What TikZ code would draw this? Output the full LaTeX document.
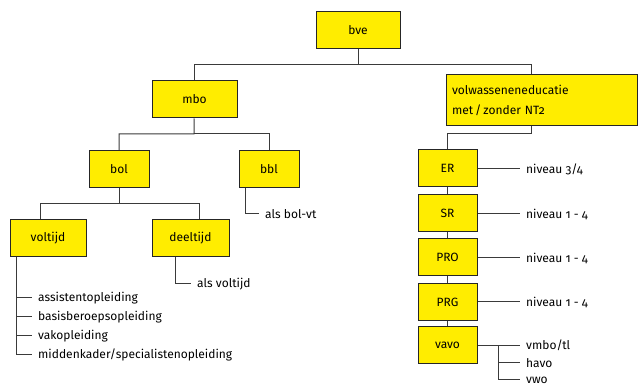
\documentclass[tikz,border=0pt]{standalone}
\usepackage{fontspec}
\setmainfont[Numbers=OldStyle]{Fira Sans}
\usetikzlibrary{calc}
\definecolor{boxyellow}{HTML}{FFED00}
\definecolor{linegray}{HTML}{3A3A3A}
\tikzset{
  box/.style={draw=black!85,line width=1pt,fill=boxyellow,minimum height=37pt,inner sep=0pt,font=\fontsize{12}{20}\selectfont},
  conn/.style={draw=linegray,line width=1pt},
  leaf/.style={anchor=west,inner xsep=6pt,inner ysep=0pt,font=\fontsize{12}{20}\selectfont}
}
\begin{document}
\begin{tikzpicture}[x=1pt,y=-1pt]
\useasboundingbox (0,0) rectangle (638,387);
% Schema bve
\node[box,minimum width=84pt] (bve) at (358,30) {bve};
\node[box,minimum width=85pt] (mbo) at (194.5,99.5) {mbo};
\node[box,minimum width=191pt,minimum height=51pt,text width=179pt,align=left] (vol) at (541.5,100.5) {volwasseneneducatie\\met\,/\,zonder NT2};
\node[box,minimum width=60pt] (bol) at (119,169) {bol};
\node[box,minimum width=60pt] (bbl) at (269,169) {bbl};
\node[box,minimum width=76pt] (voltijd) at (48,238.5) {voltijd};
\node[box,minimum width=77pt] (deeltijd) at (190.5,238.5) {deeltijd};
\node[box,minimum width=59pt] (ER) at (447.5,168.5) {ER};
\node[box,minimum width=59pt] (SR) at (447.5,213.5) {SR};
\node[box,minimum width=59pt] (PRO) at (447.5,257.5) {PRO};
\node[box,minimum width=59pt] (PRG) at (447.5,302) {PRG};
\node[box,minimum width=59pt] (vavo) at (447.5,345.5) {vavo};
% splitsingen
\coordinate (bveJ) at (358,65);
\coordinate (volJ) at (531,134);
\coordinate (mboJ) at (194,134);
\coordinate (bolJ) at (119,204);
\coordinate (vtJ) at (40,204);
\coordinate (dtJ) at (199,204);
\coordinate (vavoJ) at (498,345.5);
\draw[conn] (bve) -- (bveJ) -| (mbo);
\draw[conn] (bveJ) -| (vol.north -| volJ);
\draw[conn] (vol.south -| volJ) -- (volJ) -| (ER);
\draw[conn] (mbo) -- (mboJ) -| (bol);
\draw[conn] (mboJ) -| (bbl);
\draw[conn] (bol) -- (bolJ) -- (vtJ) -- (vtJ |- voltijd.north);
\draw[conn] (bolJ) -- (dtJ) -- (dtJ |- deeltijd.north);
\draw[conn] (ER) -- (SR);
\draw[conn] (SR) -- (PRO);
\draw[conn] (PRO) -- (PRG);
\draw[conn] (PRG) -- (vavo);
% teksten
\node[leaf] (bblL) at (259,214) {als bol-vt};
\draw[conn] (bbl.south west) ++(7,0) |- (bblL);
\node[leaf] (dtL) at (191,284) {als voltijd};
\draw[conn] (deeltijd.south west) ++(24,0) |- (dtL);
\node[leaf] (vt1) at (32,298) {assistentopleiding};
\node[leaf] (vt2) at (32,317) {basisberoepsopleiding};
\node[leaf] (vt3) at (32,336) {vakopleiding};
\node[leaf] (vt4) at (32,355) {middenkader/specialistenopleiding};
\draw[conn] (voltijd.south west) ++(7,0) |- (vt4.west);
\foreach \n in {vt1,vt2,vt3}
  \draw[conn] (vt4.west -| voltijd.south west) ++(7,0) |- (\n.west);
\node[leaf] (erL) at (520,169) {niveau 3/4};
\node[leaf] (srL) at (520,214) {niveau 1 - 4};
\node[leaf] (proL) at (520,258) {niveau 1 - 4};
\node[leaf] (prgL) at (520,302) {niveau 1 - 4};
\draw[conn] (ER.east) -- (ER.east -| erL.west);
\draw[conn] (SR.east) -- (SR.east -| srL.west);
\draw[conn] (PRO.east) -- (PRO.east -| proL.west);
\draw[conn] (PRG.east) -- (PRG.east -| prgL.west);
\node[leaf] (vv1) at (520,345.5) {vmbo/tl};
\node[leaf] (vv2) at (520,363) {havo};
\node[leaf] (vv3) at (520,380) {vwo};
\draw[conn] (vavo.east) -- (vv1.west);
\draw[conn] (vavoJ) |- (vv2.west);
\draw[conn] (vavoJ) |- (vv3.west);
\end{tikzpicture}
\end{document}
